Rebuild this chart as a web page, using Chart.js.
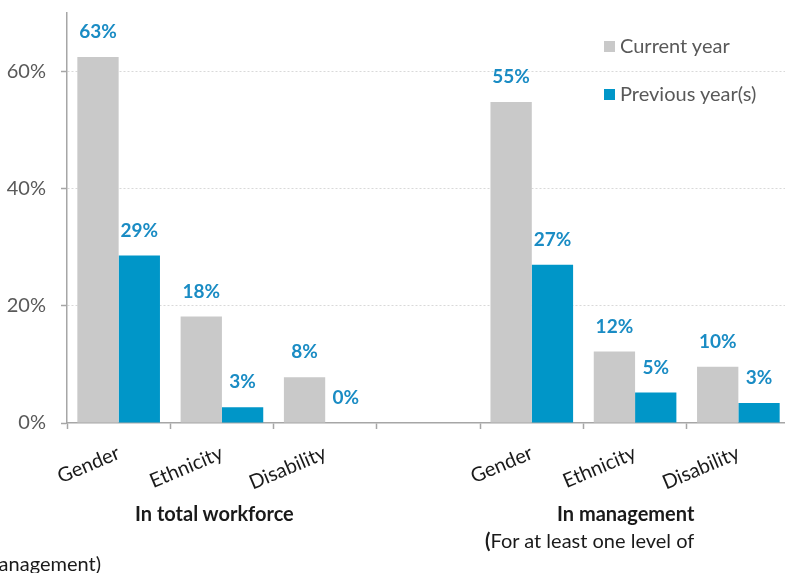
<!DOCTYPE html>
<html lang="en">
<head>
    <meta charset="UTF-8">
    <title>Diversity chart</title>
    <style>
        body {
            margin: 0;
            overflow: hidden;
            font-family: Lato, Arial, sans-serif;
            background: #fff;
        }
        #wrap {
            position: relative;
            width: 791px;
            height: 573px;
        }
        .legend-item {
            position: absolute;
            left: 604px;
            font-size: 20px;
            color: #595959;
            white-space: nowrap;
            line-height: 22px;
        }
        .legend-item span {
            display: inline-block;
            width: 11px;
            height: 11px;
            margin-right: 5px;
            vertical-align: 1px;
        }
        .note {
            position: absolute;
            font-size: 20px;
            color: #1a1a1a;
            white-space: nowrap;
            line-height: 22px;
        }
    </style>
</head>
<body>
<div id="wrap">
    <canvas id="chart"></canvas>
    <div class="legend-item" style="top:34px"><span style="background:#c9c9c9"></span>Current year</div>
    <div class="legend-item" style="top:82px"><span style="background:#0096c8"></span>Previous year(s)</div>
    <div class="note" style="left:135px; top:502px; font-weight:bold">In total workforce</div>
    <div class="note" style="left:557px; top:502px; font-weight:bold">In management</div>
    <div class="note" style="left:485px; top:529px"><b>(</b>For at least one level of</div>
    <div class="note" style="right:690px; top:552px">management)</div>
</div>

<script src="https://cdn.jsdelivr.net/npm/chart.js"></script>
<script>
    const categories = ['Gender', 'Ethnicity', 'Disability', '', 'Gender', 'Ethnicity', 'Disability'];
    const currentYear = [62.5, 18.2, 7.8, null, 54.8, 12.2, 9.6];
    const previousYears = [28.6, 2.7, 0, null, 27.0, 5.2, 3.4];
    const yTicks = [0, 20, 40, 60];

    // value labels above every bar
    const valueLabels = {
        id: 'valueLabels',
        afterDatasetsDraw(chart) {
            const ctx = chart.ctx;
            ctx.save();
            ctx.font = 'bold 19px Lato, Arial, sans-serif';
            ctx.fillStyle = '#1a8cc4';
            ctx.textAlign = 'center';
            ctx.textBaseline = 'middle';
            chart.data.datasets.forEach((ds, i) => {
                chart.getDatasetMeta(i).data.forEach((bar, j) => {
                    const v = ds.data[j];
                    if (v === null) return;
                    ctx.fillText(Math.round(v) + '%', bar.x, bar.y - 25);
                });
            });
            ctx.restore();
        }
    };

    new Chart(document.getElementById('chart'), {
        type: 'bar',
        data: {
            labels: categories,
            datasets: [{
                label: 'Current year',
                data: currentYear,
                backgroundColor: '#c9c9c9'
            }, {
                label: 'Previous year(s)',
                data: previousYears,
                backgroundColor: '#0096c8'
            }]
        },
        options: {
            responsive: true,
            maintainAspectRatio: false,
            animation: false,
            layout: { padding: { top: 13, right: 1, left: 0, bottom: 0 } },
            categoryPercentage: 0.8,
            barPercentage: 1.0,
            plugins: {
                legend: { display: false },
                tooltip: { enabled: false }
            },
            scales: {
                x: {
                    afterFit(scale) { scale.height = 150; },
                    border: { color: '#a6a6a6', width: 1.5 },
                    grid: {
                        drawOnChartArea: false,
                        drawTicks: true,
                        tickLength: 6,
                        tickColor: '#a6a6a6',
                        tickWidth: 1.5
                    },
                    ticks: {
                        minRotation: 23,
                        maxRotation: 23,
                        padding: 12,
                        color: '#1a1a1a',
                        font: { family: 'Lato, Arial, sans-serif', size: 20 }
                    }
                },
                y: {
                    min: 0,
                    max: 70,
                    afterFit(scale) {
                        scale.width = 67;
                        scale.paddingTop = 0;
                        scale.paddingBottom = 0;
                    },
                    afterBuildTicks(scale) {
                        scale.ticks = yTicks.map(v => ({ value: v }));
                    },
                    border: { color: '#a6a6a6', width: 1.5, dash: [2, 2] },
                    grid: {
                        color: ctx => ctx.tick && ctx.tick.value === 0 ? 'rgba(0,0,0,0)' : '#d9d9d9',
                        tickColor: '#a6a6a6',
                        tickLength: 6,
                        tickWidth: 1.5
                    },
                    ticks: {
                        padding: 15,
                        color: '#595959',
                        font: { family: 'Lato, Arial, sans-serif', size: 20 },
                        callback: v => v + '%'
                    }
                }
            }
        },
        plugins: [valueLabels]
    });
</script>
</body>
</html>
